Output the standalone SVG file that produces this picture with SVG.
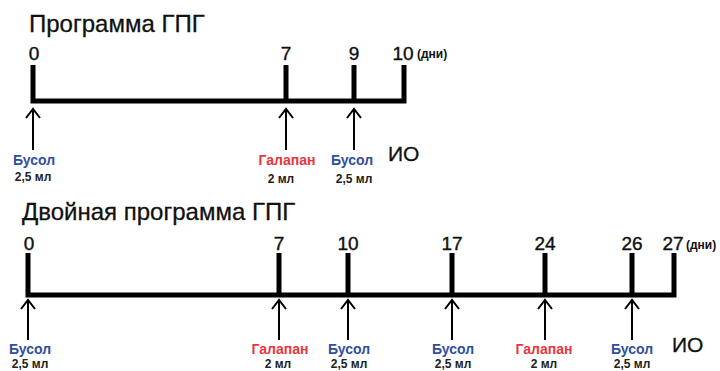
<svg xmlns="http://www.w3.org/2000/svg" width="720" height="371" viewBox="0 0 720 371">
<style>
text{font-family:"Liberation Sans",Arial,sans-serif}
.title{font-size:24px;fill:#111;stroke:#111;stroke-width:0.3}
.num{font-size:19px;fill:#111;text-anchor:middle;stroke:#111;stroke-width:0.4}
.days{font-size:12px;font-weight:bold;fill:#111}
.io{font-size:21px;fill:#111;stroke:#111;stroke-width:0.3}
.bus{font-size:14px;font-weight:bold;fill:#2f4f9f;text-anchor:middle}
.gal{font-size:14px;font-weight:bold;fill:#e8363b;text-anchor:middle}
.dose{font-size:12px;font-weight:bold;fill:#222;text-anchor:middle}
.axis{fill:none;stroke:#000;stroke-width:5;stroke-linejoin:miter;stroke-linecap:butt}
.tick{stroke:#000;stroke-width:5}
.arr{fill:none;stroke:#000;stroke-width:2}
</style>
<rect width="720" height="371" fill="#fff"/>
<g id="connectors">
<path class="axis" d="M33,65 V101 H404 V65"/>
<path class="axis" d="M28,253 V295 H674 V253"/>
</g>
<g id="top-chart">
<text class="title" x="29" y="32">Программа ГПГ</text>
<g id="t0"><text class="num" x="34" y="60">0</text>
<path class="arr" d="M33,150 V109 M26,118 L33,109 L40,118"/>
<text class="bus" x="34" y="165">Бусол</text><text class="dose" x="33" y="181">2,5 мл</text></g>
<g id="t7"><text class="num" x="286" y="60">7</text><line class="tick" x1="286" y1="65" x2="286" y2="101"/>
<path class="arr" d="M286,150 V109 M279,118 L286,109 L293,118"/>
<text class="gal" x="287" y="165">Галапан</text><text class="dose" x="281" y="183">2 мл</text></g>
<g id="t9"><text class="num" x="354" y="60">9</text><line class="tick" x1="354" y1="65" x2="354" y2="101"/>
<path class="arr" d="M354,150 V109 M347,118 L354,109 L361,118"/>
<text class="bus" x="352" y="165">Бусол</text><text class="dose" x="354" y="183">2,5 мл</text></g>
<g id="t10"><text class="num" x="403" y="60">10</text><text class="days" x="417" y="58">(дни)</text></g>
<g id="io1"><text class="io" x="388" y="161">ИО</text></g>
</g>
<g id="bottom-chart">
<text class="title" x="22" y="220">Двойная программа ГПГ</text>
<g id="b0"><text class="num" x="29" y="250">0</text>
<path class="arr" d="M28,340 V300 M21,309 L28,300 L35,309"/>
<text class="bus" x="30" y="354">Бусол</text><text class="dose" x="30" y="368">2,5 мл</text></g>
<g id="b7"><text class="num" x="279" y="250">7</text><line class="tick" x1="279" y1="253" x2="279" y2="295"/>
<path class="arr" d="M279,340 V300 M272,309 L279,300 L286,309"/>
<text class="gal" x="280" y="354">Галапан</text><text class="dose" x="278" y="368">2 мл</text></g>
<g id="b10"><text class="num" x="348" y="250">10</text><line class="tick" x1="348" y1="253" x2="348" y2="295"/>
<path class="arr" d="M348,340 V300 M341,309 L348,300 L355,309"/>
<text class="bus" x="349" y="354">Бусол</text><text class="dose" x="349" y="368">2,5 мл</text></g>
<g id="b17"><text class="num" x="452" y="250">17</text><line class="tick" x1="452" y1="253" x2="452" y2="295"/>
<path class="arr" d="M452,340 V300 M445,309 L452,300 L459,309"/>
<text class="bus" x="453" y="354">Бусол</text><text class="dose" x="453" y="368">2,5 мл</text></g>
<g id="b24"><text class="num" x="545" y="250">24</text><line class="tick" x1="545" y1="253" x2="545" y2="295"/>
<path class="arr" d="M545,340 V300 M538,309 L545,300 L552,309"/>
<text class="gal" x="544" y="354">Галапан</text><text class="dose" x="544" y="368">2 мл</text></g>
<g id="b26"><text class="num" x="632" y="250">26</text><line class="tick" x1="632" y1="253" x2="632" y2="295"/>
<path class="arr" d="M632,340 V300 M625,309 L632,300 L639,309"/>
<text class="bus" x="632" y="354">Бусол</text><text class="dose" x="632" y="368">2,5 мл</text></g>
<g id="b27"><text class="num" x="673" y="250">27</text><text class="days" x="686" y="249">(дни)</text></g>
<g id="io2"><text class="io" x="672" y="352">ИО</text></g>
</g>
</svg>
